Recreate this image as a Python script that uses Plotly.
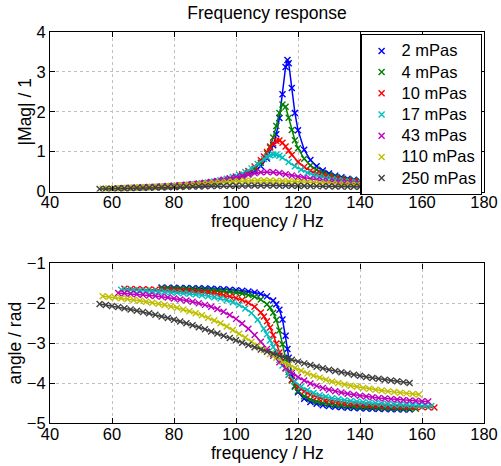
import plotly.graph_objects as go

labels = ["2 mPas", "4 mPas", "10 mPas", "17 mPas", "43 mPas", "110 mPas", "250 mPas"]
colors = ["#0000ff", "#008000", "#ff0000", "#00bfbf", "#bf00bf", "#bfbf00", "#404040"]

# ---- 2 mPas ----
f_2 = [76, 78, 80, 82, 84, 86, 88, 90, 92, 94, 96, 98, 100, 102, 104, 106, 108, 110, 112, 113, 114, 115,
       116, 116.6, 117, 118, 119, 120, 122, 124, 126, 128, 130, 132, 134, 136, 138, 140, 142, 144, 146,
       148, 150, 152, 154, 156]
mag_2 = [0.1133, 0.1211, 0.1296, 0.1391, 0.1498, 0.1618, 0.1753, 0.1909, 0.2090, 0.2303, 0.2555, 0.2852,
         0.3227, 0.3704, 0.4323, 0.5173, 0.6394, 0.830, 1.161, 1.434, 1.841, 2.440, 3.124, 3.300, 3.219,
         2.593, 1.969, 1.539, 1.047, 0.7886, 0.6323, 0.5283, 0.4543, 0.3990, 0.3562, 0.3221, 0.2941,
         0.2709, 0.2513, 0.2346, 0.2200, 0.2073, 0.1961, 0.1861, 0.1772, 0.1691]
ang_2 = [-1.605, -1.608, -1.610, -1.613, -1.616, -1.620, -1.624, -1.629, -1.634, -1.641, -1.648, -1.657,
         -1.669, -1.683, -1.702, -1.728, -1.766, -1.825, -1.931, -2.021, -2.163, -2.403, -2.813, -3.142,
         -3.364, -3.809, -4.073, -4.227, -4.390, -4.471, -4.520, -4.552, -4.575, -4.591, -4.604, -4.615,
         -4.623, -4.630, -4.636, -4.641, -4.646, -4.650, -4.653, -4.656, -4.659, -4.661]

# ---- 4 mPas ----
f_4 = [76, 78, 80, 82, 84, 86, 88, 90, 92, 94, 96, 98, 100, 102, 104, 106, 108, 110, 111, 112, 113, 114,
       115, 116, 117, 118, 119, 120, 122, 124, 126, 128, 130, 132, 134, 136, 138, 140, 142, 144, 146, 148,
       150, 152, 154, 156, 158]
mag_4 = [0.1164, 0.1246, 0.1336, 0.1436, 0.1549, 0.1676, 0.1822, 0.1990, 0.2185, 0.2417, 0.2694, 0.3033,
         0.3457, 0.4002, 0.4725, 0.5733, 0.7216, 0.956, 1.129, 1.355, 1.645, 1.967, 2.183, 2.124, 1.848,
         1.541, 1.284, 1.087, 0.8207, 0.6555, 0.5451, 0.4667, 0.4084, 0.3634, 0.3277, 0.2986, 0.2746,
         0.2543, 0.2369, 0.2220, 0.2089, 0.1974, 0.1872, 0.1781, 0.1699, 0.1625, 0.1557]
ang_4 = [-1.624, -1.628, -1.632, -1.636, -1.641, -1.647, -1.654, -1.662, -1.670, -1.681, -1.694, -1.709,
         -1.729, -1.754, -1.788, -1.835, -1.906, -2.021, -2.110, -2.235, -2.416, -2.678, -3.028, -3.402,
         -3.713, -3.936, -4.088, -4.195, -4.330, -4.410, -4.461, -4.498, -4.525, -4.546, -4.562, -4.576,
         -4.587, -4.596, -4.604, -4.611, -4.617, -4.622, -4.627, -4.631, -4.634, -4.638, -4.641]

# ---- 10 mPas ----
f_10 = [64, 66, 68, 70, 72, 74, 76, 78, 80, 82, 84, 86, 88, 90, 92, 94, 96, 98, 100, 102, 104, 106, 108,
        109, 110, 111, 112, 113, 114, 115, 116, 117, 118, 120, 122, 124, 126, 128, 130, 132, 134, 136, 138,
        140, 142, 144, 146, 148, 150, 152, 154, 156, 158, 160, 162, 164]
mag_10 = [0.0824, 0.0875, 0.0930, 0.0990, 0.1056, 0.1127, 0.1206, 0.1292, 0.1389, 0.1497, 0.1618, 0.1757,
          0.1915, 0.2099, 0.2315, 0.2571, 0.2881, 0.3262, 0.3741, 0.4357, 0.5175, 0.6289, 0.7826,
          0.8797, 0.9886, 1.1024, 1.2048, 1.2705, 1.2768, 1.2231, 1.1299, 1.0225, 0.9181,
          0.7431, 0.6146, 0.5209, 0.4510, 0.3974, 0.3552, 0.3212, 0.2934, 0.2701, 0.2504, 0.2336, 0.2190,
          0.2062, 0.1949, 0.1849, 0.1759, 0.1678, 0.1605, 0.1539, 0.1478, 0.1423, 0.1372, 0.1325]
ang_10 = [-1.635, -1.639, -1.644, -1.648, -1.653, -1.659, -1.665, -1.672, -1.679, -1.688, -1.697, -1.708,
          -1.721, -1.735, -1.752, -1.773, -1.798, -1.828, -1.867, -1.918, -1.986, -2.083, -2.228,
          -2.327, -2.451, -2.606, -2.793, -3.007, -3.232, -3.446, -3.634, -3.789, -3.914,
          -4.094, -4.212, -4.294, -4.353, -4.397, -4.432, -4.459, -4.482, -4.500, -4.516, -4.529, -4.541,
          -4.551, -4.560, -4.568, -4.575, -4.581, -4.587, -4.592, -4.597, -4.601, -4.605, -4.609]

# ---- 17 mPas ----
f_17 = [63, 65, 67, 69, 71, 73, 75, 77, 79, 81, 83, 85, 87, 89, 91, 93, 95, 97, 99, 101, 103, 105, 107,
        109, 110, 111, 112, 113, 114, 115, 117, 119, 121, 123, 125, 127, 129, 131, 133, 135, 137, 139, 141,
        143, 145, 147, 149, 151, 153, 155, 157, 159, 161, 163]
mag_17 = [0.0816, 0.0867, 0.0922, 0.0982, 0.1046, 0.1117, 0.1196, 0.1282, 0.1377, 0.1484, 0.1605, 0.1741,
          0.1897, 0.2077, 0.2287, 0.2536, 0.2833, 0.3196, 0.3642, 0.4200, 0.4907, 0.5807, 0.6916,
          0.8133, 0.8681, 0.9092, 0.9291, 0.9241, 0.8959, 0.8508,
          0.7395, 0.6324, 0.5434, 0.4726, 0.4165, 0.3717, 0.3353, 0.3054, 0.2805, 0.2594, 0.2413, 0.2257,
          0.2121, 0.2001, 0.1895, 0.1800, 0.1715, 0.1638, 0.1568, 0.1505, 0.1447, 0.1393, 0.1344, 0.1299]
ang_17 = [-1.659, -1.664, -1.670, -1.677, -1.684, -1.691, -1.700, -1.709, -1.719, -1.731, -1.744, -1.759,
          -1.776, -1.796, -1.819, -1.847, -1.880, -1.921, -1.973, -2.039, -2.126, -2.245, -2.409,
          -2.635, -2.774, -2.928, -3.092, -3.257, -3.415, -3.557,
          -3.793, -3.965, -4.088, -4.180, -4.248, -4.302, -4.343, -4.378, -4.406, -4.430, -4.450, -4.467,
          -4.482, -4.495, -4.507, -4.518, -4.527, -4.535, -4.543, -4.550, -4.556, -4.562, -4.567, -4.572]

# ---- 43 mPas ----
f_43 = [62, 64, 66, 68, 70, 72, 74, 76, 78, 80, 82, 84, 86, 88, 90, 92, 94, 96, 98, 100, 102, 104, 106,
        108, 110, 112, 114, 116, 118, 120, 122, 124, 126, 128, 130, 132, 134, 136, 138, 140, 142, 144, 146,
        148, 150, 152, 154, 156, 158, 160, 162]
mag_43 = [0.0815, 0.0866, 0.0921, 0.0980, 0.1045, 0.1115, 0.1192, 0.1276, 0.1369, 0.1473, 0.1588, 0.1716,
          0.1861, 0.2024, 0.2210, 0.2420, 0.2660, 0.2933, 0.3241, 0.3579, 0.3939, 0.4295, 0.4608, 0.4825,
          0.4902, 0.4827, 0.4626, 0.4347, 0.4037, 0.3727, 0.3437, 0.3173, 0.2938, 0.2730, 0.2546, 0.2383,
          0.2239, 0.2111, 0.1996, 0.1894, 0.1802, 0.1718, 0.1642, 0.1573, 0.1509, 0.1451, 0.1398, 0.1348,
          0.1302, 0.1260, 0.1220]
ang_43 = [-1.738, -1.748, -1.760, -1.772, -1.786, -1.800, -1.816, -1.834, -1.854, -1.876, -1.901, -1.929,
          -1.960, -1.997, -2.038, -2.087, -2.144, -2.212, -2.293, -2.389, -2.504, -2.639, -2.793, -2.964,
          -3.142, -3.316, -3.479, -3.622, -3.745, -3.848, -3.935, -4.008, -4.069, -4.122, -4.166, -4.205,
          -4.238, -4.267, -4.293, -4.316, -4.336, -4.354, -4.371, -4.386, -4.399, -4.412, -4.423, -4.434,
          -4.444, -4.452, -4.461]

# ---- 110 mPas ----
f_110 = [57, 59, 61, 63, 65, 67, 69, 71, 73, 75, 77, 79, 81, 83, 85, 87, 89, 91, 93, 95, 97, 99, 101, 103,
         105, 107, 109, 111, 113, 115, 117, 119, 121, 123, 125, 127, 129, 131, 133, 135, 137, 139, 141,
         143, 145, 147, 149, 151, 153, 155, 157, 159]
mag_110 = [0.0702, 0.0744, 0.0789, 0.0836, 0.0886, 0.0940, 0.0998, 0.1059, 0.1126, 0.1197, 0.1273, 0.1356,
           0.1445, 0.1540, 0.1643, 0.1752, 0.1868, 0.1990, 0.2116, 0.2245, 0.2371, 0.2491, 0.2599, 0.2689,
           0.2755, 0.2793, 0.2800, 0.2779, 0.2731, 0.2663, 0.2580, 0.2487, 0.2389, 0.2290, 0.2192, 0.2097,
           0.2006, 0.1920, 0.1839, 0.1764, 0.1693, 0.1627, 0.1565, 0.1507, 0.1453, 0.1403, 0.1356, 0.1312,
           0.1271, 0.1233, 0.1196, 0.1162]
ang_110 = [-1.824, -1.840, -1.856, -1.874, -1.893, -1.913, -1.935, -1.959, -1.984, -2.012, -2.043, -2.076,
           -2.113, -2.153, -2.198, -2.246, -2.301, -2.361, -2.427, -2.500, -2.580, -2.667, -2.760, -2.858,
           -2.960, -3.064, -3.167, -3.268, -3.366, -3.457, -3.542, -3.620, -3.691, -3.756, -3.814, -3.867,
           -3.914, -3.957, -3.996, -4.032, -4.064, -4.093, -4.120, -4.144, -4.167, -4.188, -4.207, -4.225,
           -4.241, -4.257, -4.271, -4.285]

# ---- 250 mPas ----
f_250 = [56, 58, 60, 62, 64, 66, 68, 70, 72, 74, 76, 78, 80, 82, 84, 86, 88, 90, 92, 94, 96, 98, 100, 102,
         104, 106, 108, 110, 112, 114, 116, 118, 120, 122, 124, 126, 128, 130, 132, 134, 136, 138, 140,
         142, 144, 146, 148, 150, 152, 154, 156]
mag_250 = [0.0645, 0.0679, 0.0713, 0.0749, 0.0785, 0.0823, 0.0863, 0.0903, 0.0944, 0.0986, 0.1028, 0.1072,
           0.1115, 0.1158, 0.1201, 0.1243, 0.1283, 0.1322, 0.1357, 0.1390, 0.1419, 0.1444, 0.1465, 0.1481,
           0.1492, 0.1498, 0.1499, 0.1496, 0.1488, 0.1477, 0.1462, 0.1444, 0.1424, 0.1401, 0.1378, 0.1353,
           0.1327, 0.1301, 0.1274, 0.1248, 0.1221, 0.1196, 0.1170, 0.1145, 0.1120, 0.1097, 0.1073, 0.1051,
           0.1029, 0.1008, 0.0987]
ang_250 = [-2.016, -2.040, -2.067, -2.093, -2.122, -2.153, -2.184, -2.217, -2.251, -2.288, -2.327, -2.367,
           -2.410, -2.454, -2.500, -2.548, -2.598, -2.650, -2.703, -2.758, -2.814, -2.871, -2.928, -2.985,
           -3.043, -3.099, -3.156, -3.211, -3.264, -3.316, -3.366, -3.415, -3.461, -3.505, -3.547, -3.587,
           -3.626, -3.662, -3.696, -3.729, -3.760, -3.790, -3.817, -3.844, -3.869, -3.892, -3.914, -3.936,
           -3.956, -3.975, -3.994]

freqs = [f_2, f_4, f_10, f_17, f_43, f_110, f_250]
mags = [mag_2, mag_4, mag_10, mag_17, mag_43, mag_110, mag_250]
angs = [ang_2, ang_4, ang_10, ang_17, ang_43, ang_110, ang_250]

x_ticks = [40, 60, 80, 100, 120, 140, 160, 180]
mag_ticks = [0, 1, 2, 3, 4]
ang_ticks = [-5, -4, -3, -2, -1]

FONT = "Liberation Sans, Arial, Helvetica, sans-serif"
W, H = 501, 466
MT, MB = 32, 43
PH = H - MT - MB


def paper_y(px):
    return 1 - (px - MT) / PH


fig = go.Figure()
for f, m, a, lab, c in zip(freqs, mags, angs, labels, colors):
    mk = dict(symbol="x-thin", size=6, line=dict(width=1.4, color=c), color=c)
    fig.add_trace(go.Scatter(x=f, y=m, mode="markers", marker=mk,
                             name='<span style="font-size:16.5px">' + lab + '</span>',
                             xaxis="x", yaxis="y"))
    fig.add_trace(go.Scatter(x=f, y=m, mode="lines", line=dict(color=c, width=1.5),
                             showlegend=False, xaxis="x", yaxis="y"))
    fig.add_trace(go.Scatter(x=f, y=a, mode="markers", marker=mk, showlegend=False,
                             xaxis="x2", yaxis="y2"))
    fig.add_trace(go.Scatter(x=f, y=a, mode="lines", line=dict(color=c, width=1.5),
                             showlegend=False, xaxis="x2", yaxis="y2"))

axis_common = dict(showline=True, linecolor="black", linewidth=1.2, mirror="ticks",
                   ticks="inside", ticklen=5, tickcolor="black", showgrid=True,
                   gridcolor="#c0c0c0", griddash="dot", gridwidth=1, zeroline=False,
                   automargin=False,
                   tickfont=dict(size=16.5, color="black", family=FONT))

title_font = dict(size=17.5, color="black", family=FONT)

fig.update_layout(
    width=W, height=H,
    margin=dict(l=50, r=17, t=MT, b=MB),
    paper_bgcolor="white", plot_bgcolor="white",
    font=dict(family=FONT, size=17, color="black"),
    title=dict(text="Frequency response", x=0.5, xref="paper", xanchor="center",
               y=1 - 13 / H, yref="container", yanchor="middle", font=title_font),
    xaxis=dict(domain=[0, 1], anchor="y", range=[40, 180], tickvals=x_ticks,
               ticklabelstandoff=-4, **axis_common),
    yaxis=dict(domain=[0.592, 1], anchor="x", range=[0, 4], tickvals=mag_ticks,
               title=dict(text="|Mag| / 1", standoff=0, font=title_font), **axis_common),
    xaxis2=dict(domain=[0, 1], anchor="y2", range=[40, 180], tickvals=x_ticks,
                ticklabelstandoff=-4, **axis_common),
    yaxis2=dict(domain=[0, 0.408], anchor="x2", range=[-5, -1], tickvals=ang_ticks,
                title=dict(text="angle / rad", standoff=0, font=title_font), **axis_common),
    legend=dict(x=0.715, y=paper_y(34), xanchor="left", yanchor="top", bgcolor="white",
                bordercolor="black", borderwidth=1.3, font=dict(size=14, family=FONT)),
    showlegend=True,
    annotations=[
        dict(text="frequency / Hz", x=0.5, xref="paper", y=paper_y(221), yref="paper",
             xanchor="center", yanchor="middle", showarrow=False, font=title_font),
        dict(text="frequency / Hz", x=0.5, xref="paper", y=paper_y(453), yref="paper",
             xanchor="center", yanchor="middle", showarrow=False, font=title_font),
    ],
)

fig.write_html("out.html", config={"displayModeBar": False},
               post_script="document.body.style.margin='0px';")
